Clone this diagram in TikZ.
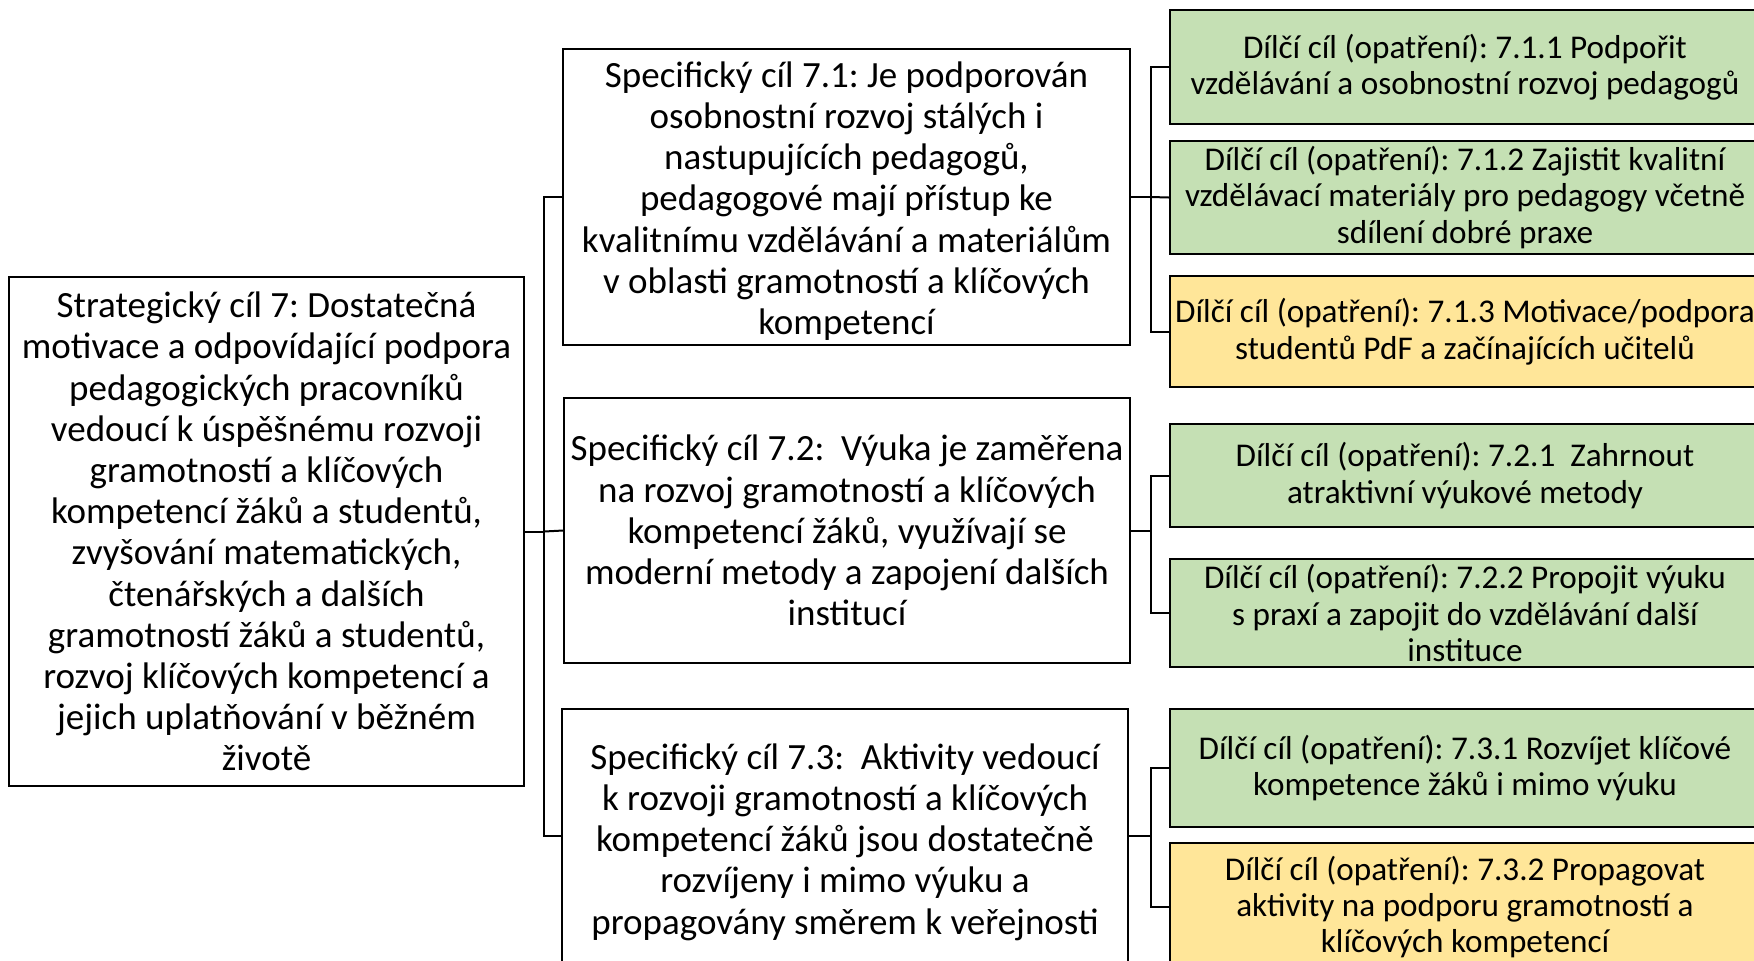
\documentclass[tikz,border=0pt]{standalone}
\usepackage{fontspec}
\setmainfont{Carlito}
\frenchspacing
\definecolor{lgreen}{HTML}{C5E0B4}
\definecolor{lyellow}{HTML}{FFE699}
\begin{document}
\begin{tikzpicture}[x=0.5pt,y=-0.5pt,
  frame/.style={draw=black,line width=1pt,fill=white,inner sep=0pt},
  gframe/.style={frame,fill=lgreen,minimum width=295pt},
  yframe/.style={frame,fill=lyellow,minimum width=295pt},
  txt/.style={align=center,inner sep=0pt,font=\fontsize{18.5}{20.6}\selectfont},
  stxt/.style={align=center,inner sep=0pt,font=\fontsize{16.6}{18.2}\selectfont},
  link/.style={draw=black,line width=1pt}]
\useasboundingbox (0,0) rectangle (1754,960);
\clip (0,0) rectangle (1754,960);
\fill[white] (0,0) rectangle (1754,960);
% main
\node[frame,minimum width=257.5pt,minimum height=254.5pt] (main) at (266.5,531.5) {};
\node[txt] (main-t) at (main.center)
 {Strategický cíl 7: Dostatečná\\motivace a odpovídající podpora\\pedagogických pracovníků\\vedoucí k úspěšnému rozvoji\\gramotností a klíčových\\kompetencí žáků a studentů,\\zvyšování matematických,\\čtenářských a dalších\\gramotností žáků a studentů,\\rozvoj klíčových kompetencí a\\jejich uplatňování v běžném\\životě};
% specific
\node[frame,minimum width=283.5pt,minimum height=148pt] (s1) at (846.5,197) {};
\node[txt] (s1-t) at ([yshift=-2pt]s1.center)
 {Specifický cíl 7.1: Je podporován\\osobnostní rozvoj stálých i\\nastupujících pedagogů,\\pedagogové mají přístup ke\\kvalitnímu vzdělávání a materiálům\\v oblasti gramotností a klíčových\\kompetencí};
\node[frame,minimum width=283pt,minimum height=132.5pt] (s2) at (847,530.5) {};
\node[txt] (s2-t) at (s2.center)
 {Specifický cíl 7.2:\ \ Výuka je zaměřena\\na rozvoj gramotností a klíčových\\kompetencí žáků, využívají se\\moderní metody a zapojení dalších\\institucí};
\node[frame,minimum width=283pt,minimum height=127pt] (s3) at (845,836) {};
\node[txt] (s3-t) at ([yshift=-3pt]s3.center)
 {Specifický cíl 7.3:\ \ Aktivity vedoucí\\k rozvoji gramotností a klíčových\\kompetencí žáků jsou dostatečně\\rozvíjeny i mimo výuku a\\propagovány směrem k veřejnosti};
% sub goals
\node[gframe,minimum height=57pt] (g711) at (1465,67) {};
\node[stxt] (g711-t) at (g711.center)
 {Dílčí cíl (opatření): 7.1.1 Podpořit\\vzdělávání a osobnostní rozvoj pedagogů};
\node[gframe,minimum height=56.5pt] (g712) at (1465,197.5) {};
\node[stxt] (g712-t) at (g712.center)
 {Dílčí cíl (opatření): 7.1.2 Zajistit kvalitní\\vzdělávací materiály pro pedagogy včetně\\sdílení dobré praxe};
\node[yframe,minimum height=55.5pt] (y713) at (1465,331.5) {};
\node[stxt] (y713-t) at (y713.center)
 {Dílčí cíl (opatření): 7.1.3 Motivace/podpora\\studentů PdF a začínajících učitelů};
\node[gframe,minimum height=51.5pt] (g721) at (1465,475.5) {};
\node[stxt] (g721-t) at (g721.center)
 {Dílčí cíl (opatření): 7.2.1\ \ Zahrnout\\atraktivní výukové metody};
\node[gframe,minimum height=54pt] (g722) at (1465,613) {};
\node[stxt] (g722-t) at (g722.center)
 {Dílčí cíl (opatření): 7.2.2 Propojit výuku\\s praxí a zapojit do vzdělávání další\\instituce};
\node[gframe,minimum height=59pt] (g731) at (1465,768) {};
\node[stxt] (g731-t) at (g731.center)
 {Dílčí cíl (opatření): 7.3.1 Rozvíjet klíčové\\kompetence žáků i mimo výuku};
\node[yframe,minimum height=64pt] (y732) at (1465,907) {};
\node[stxt] (y732-t) at (y732.center)
 {Dílčí cíl (opatření): 7.3.2 Propagovat\\aktivity na podporu gramotností a\\klíčových kompetencí};
% spines
\coordinate (sp) at (544,0);
\coordinate (sq) at (1151,0);
\draw[link] (main.east) -- (main.east -| sp) |- (s1.west);
\draw[link] (main.east -| sp) |- (s3.west);
\draw[link] (main.east -| sp) -- (s2.west);
\draw[link] (s1.east) -- (s1.east -| sq) |- (g711.west);
\draw[link] (s1.east -| sq) |- (y713.west);
\draw[link] (s1.east -| sq) -- (g712.west);
\draw[link] (s2.east) -- (s2.east -| sq) |- (g721.west);
\draw[link] (s2.east -| sq) |- (g722.west);
\draw[link] (s3.east) -- (s3.east -| sq) |- (g731.west);
\draw[link] (s3.east -| sq) |- (y732.west);
\end{tikzpicture}
\end{document}
